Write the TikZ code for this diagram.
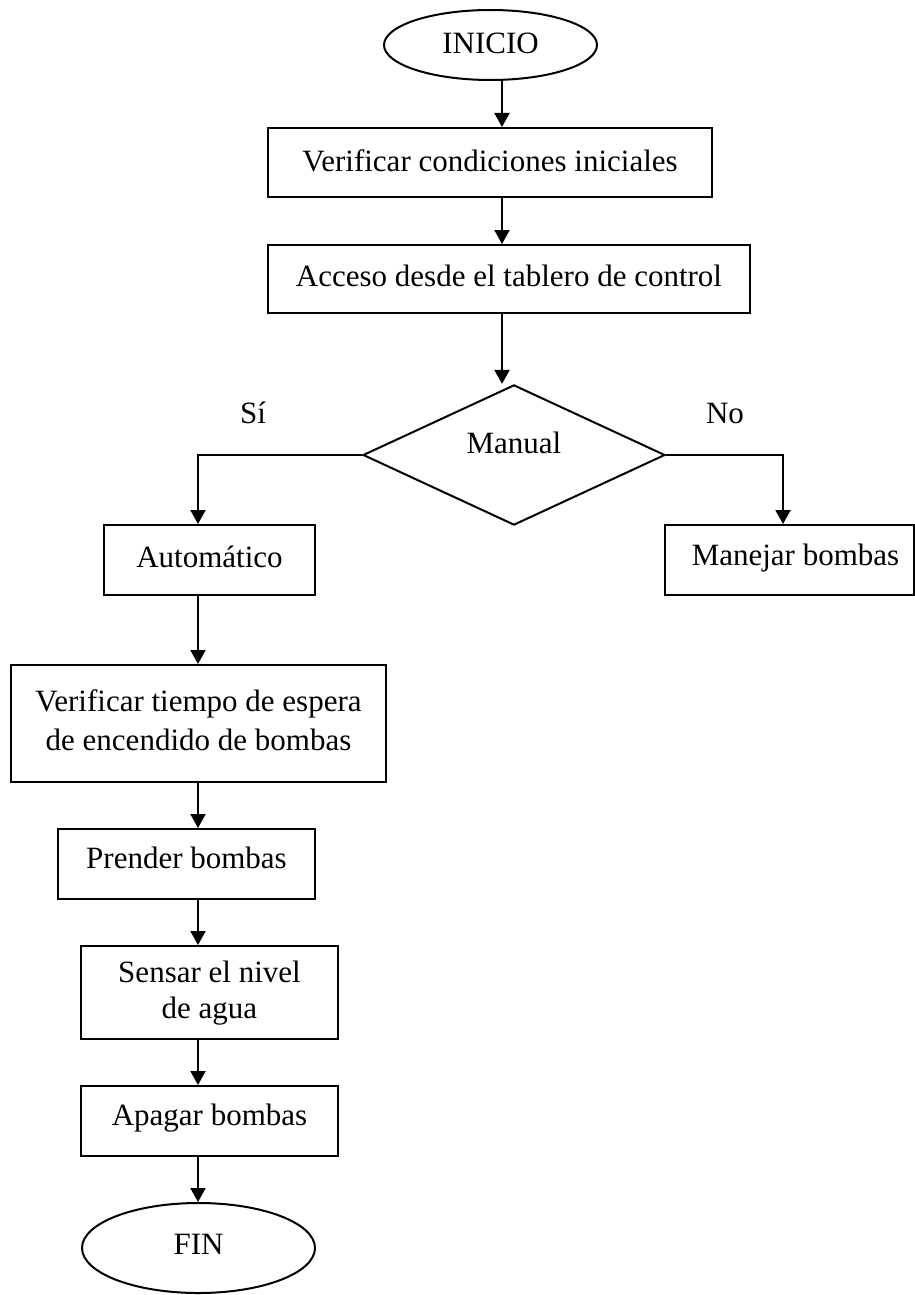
\documentclass[tikz,border=0pt]{standalone}
\usepackage{fontspec}
\setmainfont{Liberation Serif}
\usetikzlibrary{shapes.geometric,arrows.meta}
\begin{document}
\begin{tikzpicture}[x=0.5pt,y=-0.5pt,
  every node/.style={font=\fontsize{15.5}{19}\selectfont},
  box/.style={draw,line width=1pt,rectangle,inner sep=0pt,align=center},
  term/.style={draw,line width=1pt,ellipse,inner sep=0pt},
  dec/.style={draw,line width=1pt,diamond,inner sep=0pt},
  arr/.style={line width=1pt,-{Triangle[width=7.5pt,length=7pt]}},
  ln/.style={line width=1pt}]
\useasboundingbox (0,0) rectangle (915,1295);
\coordinate (ax) at (502,0);
\coordinate (lx) at (198,0);
\coordinate (rx) at (783,0);
\node[term,minimum width=106.5pt,minimum height=35pt] (ini) at (490.5,45) {\raisebox{2pt}{INICIO}};
\node[box,minimum width=222pt,minimum height=34.5pt] (v1) at (490,162.5) {\raisebox{2pt}{Verificar condiciones iniciales}};
\node[box,minimum width=241pt,minimum height=34pt] (acc) at (509,279) {\raisebox{3pt}{Acceso desde el tablero de control}};
\node[dec,minimum width=151pt,minimum height=70pt] (dia) at (514,455) {\raisebox{12pt}{Manual}};
\node (si) at (253,413) {Sí};
\node (no) at (725,413) {No};
\node[box,minimum width=105.5pt,minimum height=35pt] (aut) at (209.5,560) {\raisebox{3pt}{Automático}};
\node[box,minimum width=124.5pt,minimum height=35pt] (man) at (789.5,560) {\hspace*{6pt}\raisebox{5pt}{Manejar bombas}};
\node[box,minimum width=187.5pt,minimum height=58.5pt] (vt) at (198.5,723.5) {\raisebox{10.5pt}{\begin{tabular}{@{}c@{}}Verificar tiempo de espera\\[0.5pt] de encendido de bombas\end{tabular}}};
\node[box,minimum width=128.5pt,minimum height=35pt] (pre) at (186.5,864) {\raisebox{6pt}{Prender bombas}};
\node[box,minimum width=128.5pt,minimum height=46.5pt] (sen) at (209.5,992.5) {\begin{tabular}{@{}c@{}}Sensar el nivel\\[-1pt] de agua\end{tabular}};
\node[box,minimum width=128.5pt,minimum height=35pt] (apa) at (209.5,1121) {\raisebox{6pt}{Apagar bombas}};
\node[term,minimum width=116.5pt,minimum height=45pt] (fin) at (198.5,1248) {\raisebox{4pt}{FIN}};
\draw[arr] (ini.south -| ax) -- (v1.north -| ax);
\draw[arr] (v1.south -| ax) -- (acc.north -| ax);
\draw[arr] (acc.south -| ax) -- (dia.north -| ax);
\draw[arr] (dia.west) -| (lx |- aut.north);
\draw[arr] (dia.east) -| (rx |- man.north);
\draw[arr] (aut.south -| lx) -- (vt.north -| lx);
\draw[arr] (vt.south -| lx) -- (pre.north -| lx);
\draw[arr] (pre.south -| lx) -- (sen.north -| lx);
\draw[arr] (sen.south -| lx) -- (apa.north -| lx);
\draw[arr] (apa.south -| lx) -- (fin.north -| lx);
\end{tikzpicture}
\end{document}
